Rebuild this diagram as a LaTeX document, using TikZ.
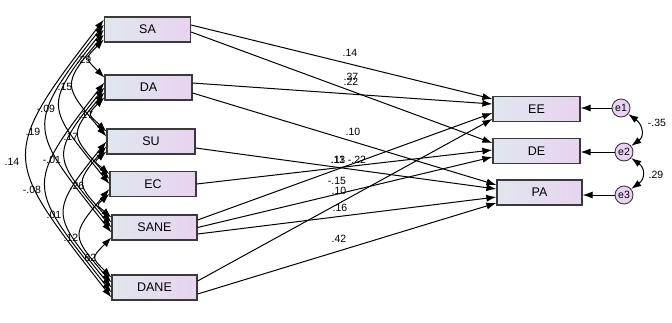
\documentclass[tikz,border=0pt]{standalone}
\usepackage{fontspec}
\setmainfont{Liberation Sans}
\usetikzlibrary{arrows.meta,calc}
\definecolor{boxL}{HTML}{E0E7EE}
\definecolor{boxR}{HTML}{E8D3F0}
\definecolor{edgec}{HTML}{3A3A3A}
\begin{document}
\begin{tikzpicture}[x=1pt,y=-1pt,
  var/.style={draw=edgec, line width=1.2pt, left color=boxL, right color=boxR,
    minimum width=86pt, minimum height=25pt, inner sep=0pt,
    font=\fontsize{12.5}{12.5}\selectfont},
  err/.style={circle, draw=edgec, line width=0.9pt, fill=boxR, minimum size=18pt,
    inner sep=0pt, font=\fontsize{10.5}{10.5}\selectfont},
  reg/.style={-{Latex[length=10pt,width=7pt]}, line width=1pt},
  cov/.style={{Latex[length=10pt,width=7pt]}-{Latex[length=10pt,width=7pt]}, line width=1pt},
  lab/.style={font=\fontsize{10.5}{10.5}\selectfont, inner sep=0pt}
]
\useasboundingbox (0,0) rectangle (672,322);

% variables
\node[var, minimum width=86pt] (SA) at (147.5,29.5) {SA};
\node[var, minimum width=87pt] (DA) at (148.5,87.5) {DA};
\node[var, minimum width=88pt] (SU) at (151,141.5) {SU};
\node[var] (EC) at (153,184) {EC};
\node[var, minimum width=85pt] (SANE) at (154.5,227.5) {SANE};
\node[var, minimum width=85pt] (DANE) at (154.5,287.5) {DANE};
\node[var, minimum width=87pt] (EE) at (536.5,109) {EE};
\node[var, minimum width=87pt] (DE) at (536.5,151) {DE};
\node[var, minimum width=85pt] (PA) at (539.5,192.5) {PA};
\node[err] (e1) at (621,108) {e1};
\node[err] (e2) at (624,152) {e2};
\node[err] (e3) at (624,195) {e3};

% covariance attachment slots
\foreach \b in {SA,DA,SU,EC,SANE,DANE}
  \foreach \k/\f in {1/0.12,2/0.31,3/0.5,4/0.69,5/0.88}
    \coordinate (\b\k) at ($(\b.north west)!\f!(\b.south west)$);

% covariances
\foreach \p/\q/\c in {SA5/DA1/39, SA4/SU2/102.5, SA3/EC3/154.5, SA2/SANE4/207.5,
    SA1/DANE5/277, DA5/SU1/35, DA4/EC2/87, DA3/SANE3/140, DA2/DANE4/209.5,
    SU5/EC1/23.5, SU4/SANE2/76.5, SU3/DANE3/146, EC5/SANE1/24.5, EC4/DANE2/94,
    SANE5/DANE1/41}
  \draw[cov] (\p) .. controls +({-0.37*\c-5},{0.5*\c}) and +({-0.37*\c-5},{-0.5*\c}) .. (\q);

\node[lab] (c1) at (84,60) {.29};
\node[lab] (c2) at (65,87) {.15};
\node[lab] (c3) at (46,109) {-.09};
\node[lab] (c4) at (33,132) {.19};
\node[lab] (c5) at (12,162) {.14};
\node[lab] (c6) at (86,115) {.17};
\node[lab] (c7) at (71,137) {.17};
\node[lab] (c8) at (52,160) {-.01};
\node[lab] (c9) at (32,190) {-.08};
\node[lab] (c11) at (77,186) {.26};
\node[lab] (c12) at (54,215) {.01};
\node[lab] (c14) at (71,238) {.12};
\node[lab] (c15) at (89,258) {.62};

% regression end points
\coordinate (SAo1) at ($(SA.east)+(0,-4.5)$);
\coordinate (SAo2) at ($(SA.east)+(0,2.5)$);
\coordinate (DAo1) at ($(DA.east)+(0,-4.5)$);
\coordinate (DAo2) at ($(DA.east)+(0,5.5)$);
\coordinate (SUo) at ($(SU.east)+(0,6.5)$);
\coordinate (ECo) at (EC.east);
\coordinate (SANEo1) at ($(SANE.east)+(0,-7.5)$);
\coordinate (SANEo2) at (SANE.east);
\coordinate (SANEo3) at ($(SANE.east)+(0,6.5)$);
\coordinate (DANEo1) at ($(DANE.east)+(0,-6.5)$);
\coordinate (DANEo2) at ($(DANE.east)+(0,6.5)$);
\coordinate (EEi1) at ($(EE.west)+(0,-10)$);
\coordinate (EEi2) at ($(EE.west)+(0,-5)$);
\coordinate (EEi3) at ($(EE.west)+(0,4)$);
\coordinate (EEi4) at ($(EE.west)+(0,10)$);
\coordinate (DEi1) at ($(DE.west)+(0,-8)$);
\coordinate (DEi2) at ($(DE.west)+(0,-1)$);
\coordinate (DEi3) at ($(DE.west)+(0,6)$);
\coordinate (PAi1) at ($(PA.west)+(0,-7.5)$);
\coordinate (PAi2) at ($(PA.west)+(0,-3.5)$);
\coordinate (PAi3) at ($(PA.west)+(0,4.5)$);
\coordinate (PAi4) at ($(PA.west)+(0,10.5)$);

\draw[reg] (SAo1) -- (EEi1);
\draw[reg] (SAo2) -- (DEi1);
\draw[reg] (DAo1) -- (EEi2);
\draw[reg] (DAo2) -- (PAi1);
\draw[reg] (SUo) -- (PAi2);
\draw[reg] (ECo) -- (DEi2);
\draw[reg] (SANEo1) -- (EEi3);
\draw[reg] (SANEo2) -- (DEi3);
\draw[reg] (SANEo3) -- (PAi3);
\draw[reg] (DANEo1) -- (EEi4);
\draw[reg] (DANEo2) -- (PAi4);

\node[lab] (r1) at (350,53) {.14};
\node[lab] (r2) at (351,77) {.37};
\node[lab] (r3) at (351,82) {.22};
\node[lab] (r4) at (353,132) {.10};
\node[lab] (r5) at (338,160) {.13};
\node[lab] (r6) at (338,160) {.11};
\node[lab] (r7) at (357,160) {-.22};
\node[lab] (r8) at (337,181) {-.15};
\node[lab] (r9) at (340,208) {.16};
\node[lab] (r10) at (339,191) {.10};
\node[lab] (r11) at (339,239) {.42};

% errors
\draw[reg] (e1.west) -- (e1.west -| EE.east);
\draw[reg] (e2.west) -- (e2.west -| DE.east);
\draw[reg] (e3.west) -- (e3.west -| PA.east);
\draw[cov] (e1.-40) .. controls +(14,10) and +(14,-10) .. (e2.40);
\draw[cov] (e2.-40) .. controls +(14,10) and +(14,-10) .. (e3.40);
\node[lab] (ec1) at (657,123) {-.35};
\node[lab] (ec2) at (656,175) {.29};
\end{tikzpicture}
\end{document}
